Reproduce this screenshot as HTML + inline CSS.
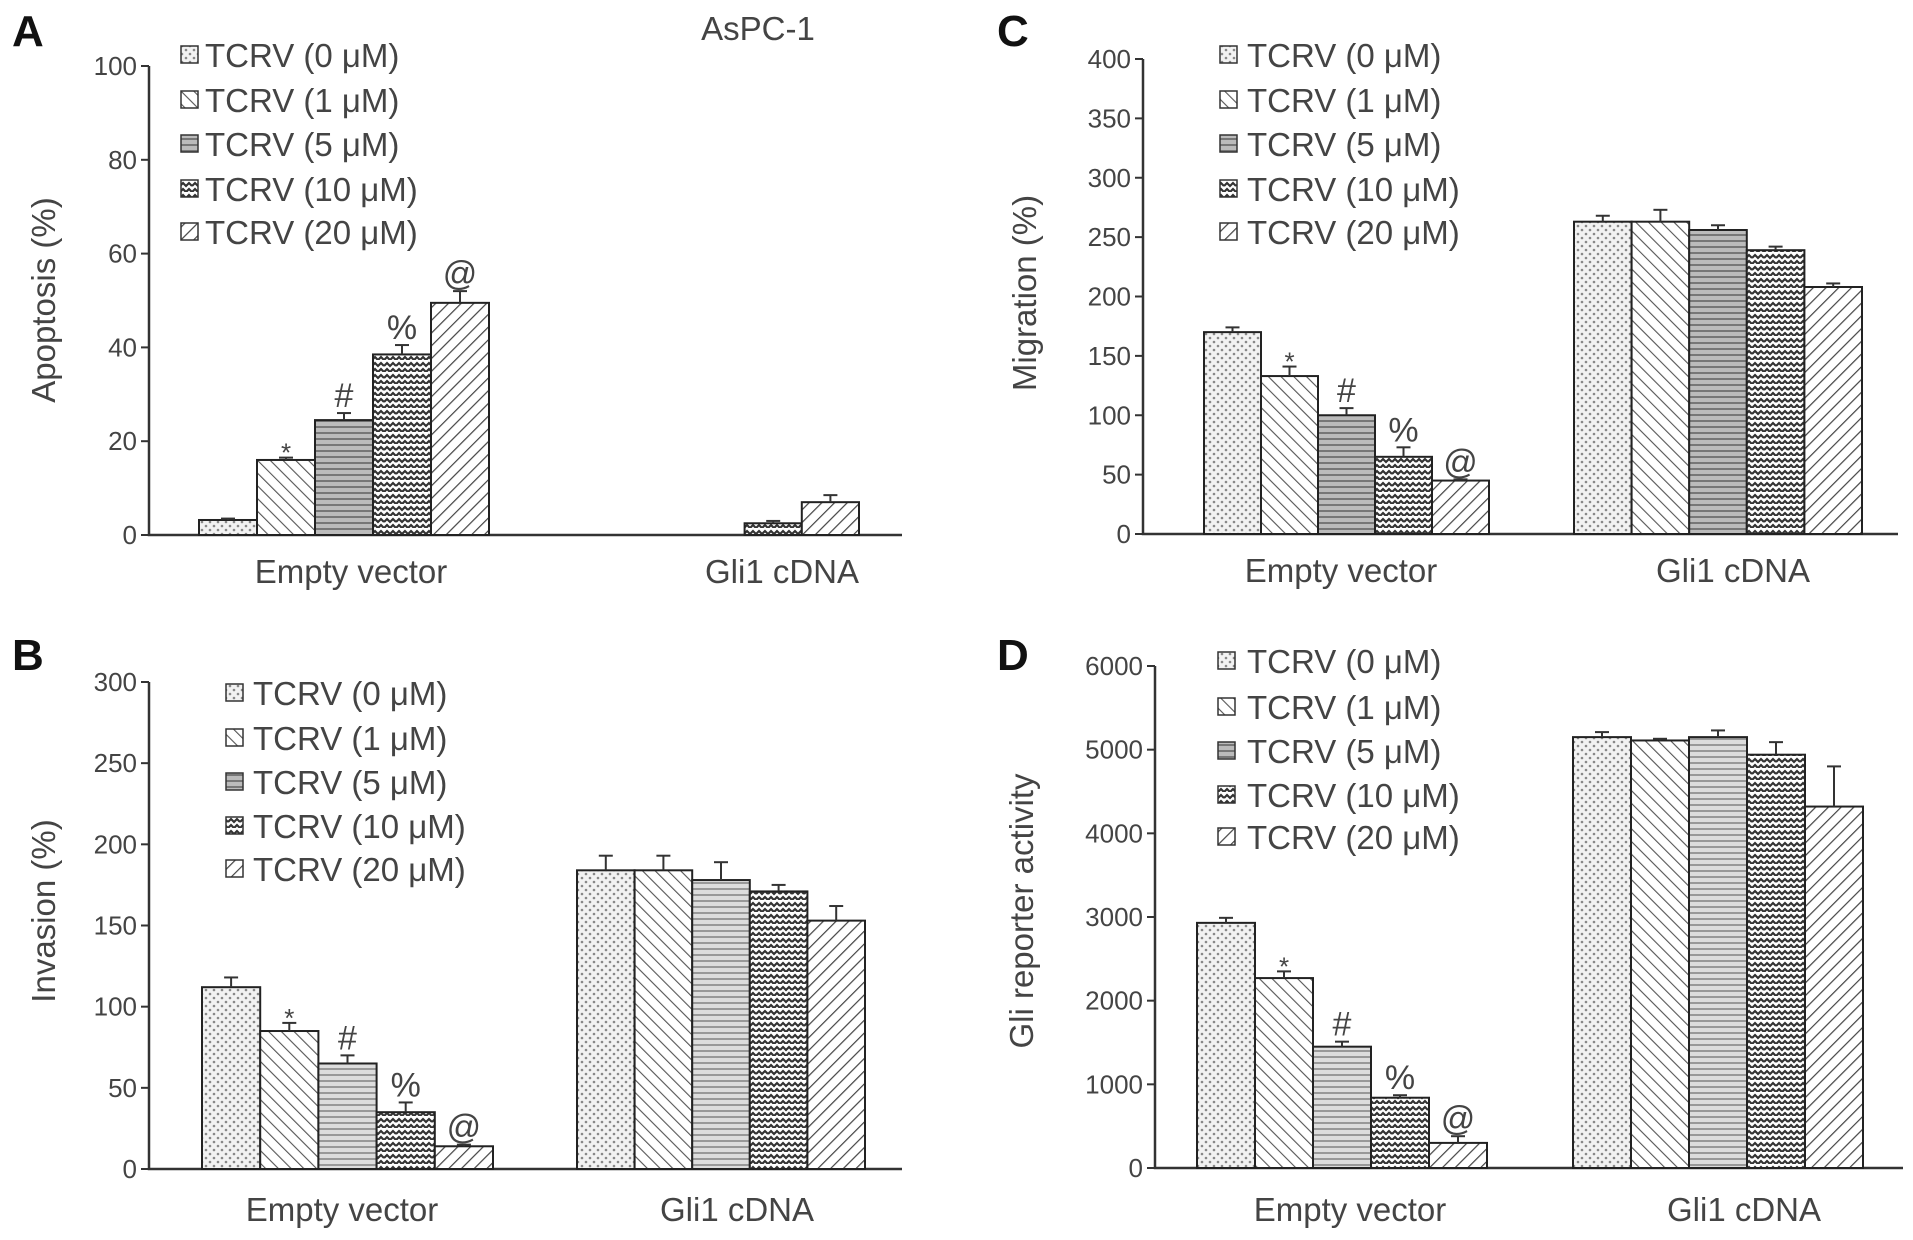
<!DOCTYPE html>
<html><head><meta charset="utf-8"><style>
html,body{margin:0;padding:0;background:#fff;}
svg{display:block;font-family:"Liberation Sans",Arial,sans-serif;}
</style></head><body>
<svg id="fig" width="1913" height="1240" viewBox="0 0 1913 1240" xmlns="http://www.w3.org/2000/svg">
<defs>
<pattern id="p0" width="8" height="8" patternUnits="userSpaceOnUse"><rect width="8" height="8" fill="#f2f2f2"/><circle cx="2" cy="2" r="1.3" fill="#888"/><circle cx="6" cy="6" r="1.3" fill="#888"/></pattern>
<pattern id="p1" width="9" height="9" patternUnits="userSpaceOnUse" patternTransform="rotate(-45)"><rect width="9" height="9" fill="#fff"/><line x1="0" y1="0" x2="0" y2="9" stroke="#555" stroke-width="2.2"/></pattern>
<pattern id="p2" width="6" height="6" patternUnits="userSpaceOnUse"><rect width="6" height="6" fill="#bbb"/><line x1="0" y1="1" x2="6" y2="1" stroke="#777" stroke-width="2"/></pattern>
<pattern id="p2l" width="6" height="6" patternUnits="userSpaceOnUse"><rect width="6" height="6" fill="#ddd"/><line x1="0" y1="1" x2="6" y2="1" stroke="#999" stroke-width="2"/></pattern>
<pattern id="p3" width="12" height="12" patternUnits="userSpaceOnUse"><rect width="12" height="12" fill="#fff"/><path d="M0 6 L3 3 L6 6 L9 3 L12 6 M0 12 L3 9 L6 12 L9 9 L12 12" stroke="#333" stroke-width="2.2" fill="none"/></pattern>
<pattern id="p4" width="9" height="9" patternUnits="userSpaceOnUse" patternTransform="rotate(45)"><rect width="9" height="9" fill="#fff"/><line x1="0" y1="0" x2="0" y2="9" stroke="#444" stroke-width="2.4"/></pattern>
</defs>
<g id="root"></g>
</svg>
<script>
// Panel A
const catsA = ["Empty vector","Gli1 cDNA"];
const valsA = [[3.2,16,24.5,38.5,49.5],[0,0,0,2.5,7]];
const errA = [[0.3,0.5,1.5,2,2.5],[0,0,0,0.5,1.5]];
const ticksA = [0,20,40,60,80,100];
// Panel B
const catsB = ["Empty vector","Gli1 cDNA"];
const valsB = [[112,85,65,35,14],[184,184,178,171,153]];
const errB = [[6,5,5,6,1],[9,9,11,4,9]];
const ticksB = [0,50,100,150,200,250,300];
// Panel C
const catsC = ["Empty vector","Gli1 cDNA"];
const valsC = [[170,133,100,65,45],[263,263,256,239,208]];
const errC = [[4,8,6,8,1],[5,10,4,3,3]];
const ticksC = [0,50,100,150,200,250,300,350,400];
// Panel D
const catsD = ["Empty vector","Gli1 cDNA"];
const valsD = [[2930,2270,1450,840,300],[5150,5110,5150,4940,4320]];
const errD = [[60,80,60,30,80],[60,20,80,150,480]];
const ticksD = [0,1000,2000,3000,4000,5000,6000];
const legendLabels = ["TCRV (0 μM)","TCRV (1 μM)","TCRV (5 μM)","TCRV (10 μM)","TCRV (20 μM)"];
const marks = ["","*","#","%","@"];

const NS="http://www.w3.org/2000/svg";
const root=document.getElementById('root');
function mk(tag,attrs,parent,text){const e=document.createElementNS(NS,tag);for(const k in attrs)e.setAttribute(k,attrs[k]);if(text!==undefined)e.textContent=text;(parent||root).appendChild(e);return e;}

function panel(o){
  const g=mk('g',{});
  
  
  const max=o.ticks[o.ticks.length-1];
  const y=v=>o.y0-(v/max)*(o.y0-o.yTop);
  const L=mk('text',{x:o.letter[0],y:o.letter[1]+16,'font-size':44,'font-weight':'bold',fill:'#111'},g,o.id.toUpperCase());
  
  
  const ax=mk('path',{d:`M${o.ax} ${o.yTop} L${o.ax} ${o.y0} L${o.xEnd} ${o.y0}`,stroke:'#333','stroke-width':2.5,fill:'none'},g);
  
  
  o.ticks.forEach(t=>{
    mk('line',{x1:o.ax-8,x2:o.ax,y1:y(t),y2:y(t),stroke:'#333','stroke-width':2},g);
    const tl=mk('text',{x:o.ax-12,y:y(t)+9,'font-size':26,'text-anchor':'end',fill:'#444'},g,String(t));
    
    
  });
  const yt=mk('text',{x:0,y:0,'font-size':33,'text-anchor':'middle',fill:'#444',transform:`translate(${o.yTitle[0]+12},${o.yTitle[1]}) rotate(-90)`},g,o.title);
  
  
  o.vals.forEach((grp,gi)=>{
    const [gx0,gx1]=o.groups[gi];
    const bw=(gx1-gx0)/grp.length;
    grp.forEach((v,i)=>{
      if(v<=0)return;
      const x=gx0+i*bw, top=y(v);
      let fill='url(#p'+i+')';
      if(i===2 && o.lightHoriz) fill='url(#p2l)';
      const r=mk('rect',{x:x,y:top,width:bw,height:o.y0-top,fill:fill,stroke:'#222','stroke-width':2},g);
      
      
      const e=o.err[gi][i];
      if(e>0){
        const cx=x+bw/2, ey=y(v+e);
        mk('line',{x1:cx,x2:cx,y1:top,y2:ey,stroke:'#333','stroke-width':2},g);
        mk('line',{x1:cx-7,x2:cx+7,y1:ey,y2:ey,stroke:'#333','stroke-width':2},g);
      }
      if(gi===0 && marks[i]){
        const mt=mk('text',{x:x+bw/2,y:y(v+e)-6+(i===1?10:0),'font-size':i===1?26:34,'text-anchor':'middle',fill:'#444'},g,marks[i]);
        
        
      }
    });
    const cl=mk('text',{x:o.catX[gi],y:o.catY,'font-size':33,'text-anchor':'middle',fill:'#444'},g,o.cats[gi]);
    
    
  });
  legendLabels.forEach((lab,i)=>{
    const ry=o.leg.rows[i];
    const sw=mk('rect',{x:o.leg.bx,y:ry-9,width:17,height:17,fill:'url(#p'+i+')',stroke:'#333','stroke-width':1.5},g);
    
    
    const lt=mk('text',{x:o.leg.tx,y:ry+12,'font-size':33,fill:'#444'},g,lab);
    
    
  });
}
panel({id:'a',letter:[12,30],ax:149,y0:535,yTop:66,xEnd:902,ticks:ticksA,vals:valsA,err:errA,cats:catsA,
  groups:[[199,489],[573,859]],catX:[351,782],catY:583,title:'Apoptosis (%)',yTitle:[43,300],
  leg:{bx:181,tx:205,rows:[55,100,144,189,232]}});
panel({id:'b',letter:[12,654],ax:149,y0:1169,yTop:682,xEnd:902,ticks:ticksB,vals:valsB,err:errB,cats:catsB,lightHoriz:true,
  groups:[[202,493],[577,865]],catX:[342,737],catY:1221,title:'Invasion (%)',yTitle:[43,911],
  leg:{bx:226,tx:253,rows:[693,738,782,826,869]}});
panel({id:'c',letter:[997,30],ax:1143,y0:534,yTop:59,xEnd:1898,ticks:ticksC,vals:valsC,err:errC,cats:catsC,
  groups:[[1204,1489],[1574,1862]],catX:[1341,1733],catY:582,title:'Migration (%)',yTitle:[1024,293],
  leg:{bx:1220,tx:1247,rows:[55,100,144,189,232]}});
panel({id:'d',letter:[997,654],ax:1155,y0:1168,yTop:666,xEnd:1903,ticks:ticksD,vals:valsD,err:errD,cats:catsD,lightHoriz:true,
  groups:[[1197,1487],[1573,1863]],catX:[1350,1744],catY:1221,title:'Gli reporter activity',yTitle:[1021,911],
  leg:{bx:1218,tx:1247,rows:[661,707,751,795,837]}});
const t=mk('text',{x:758,y:40,'font-size':33,'text-anchor':'middle',fill:'#444'},root,'AsPC-1');


</script>
</body></html>
